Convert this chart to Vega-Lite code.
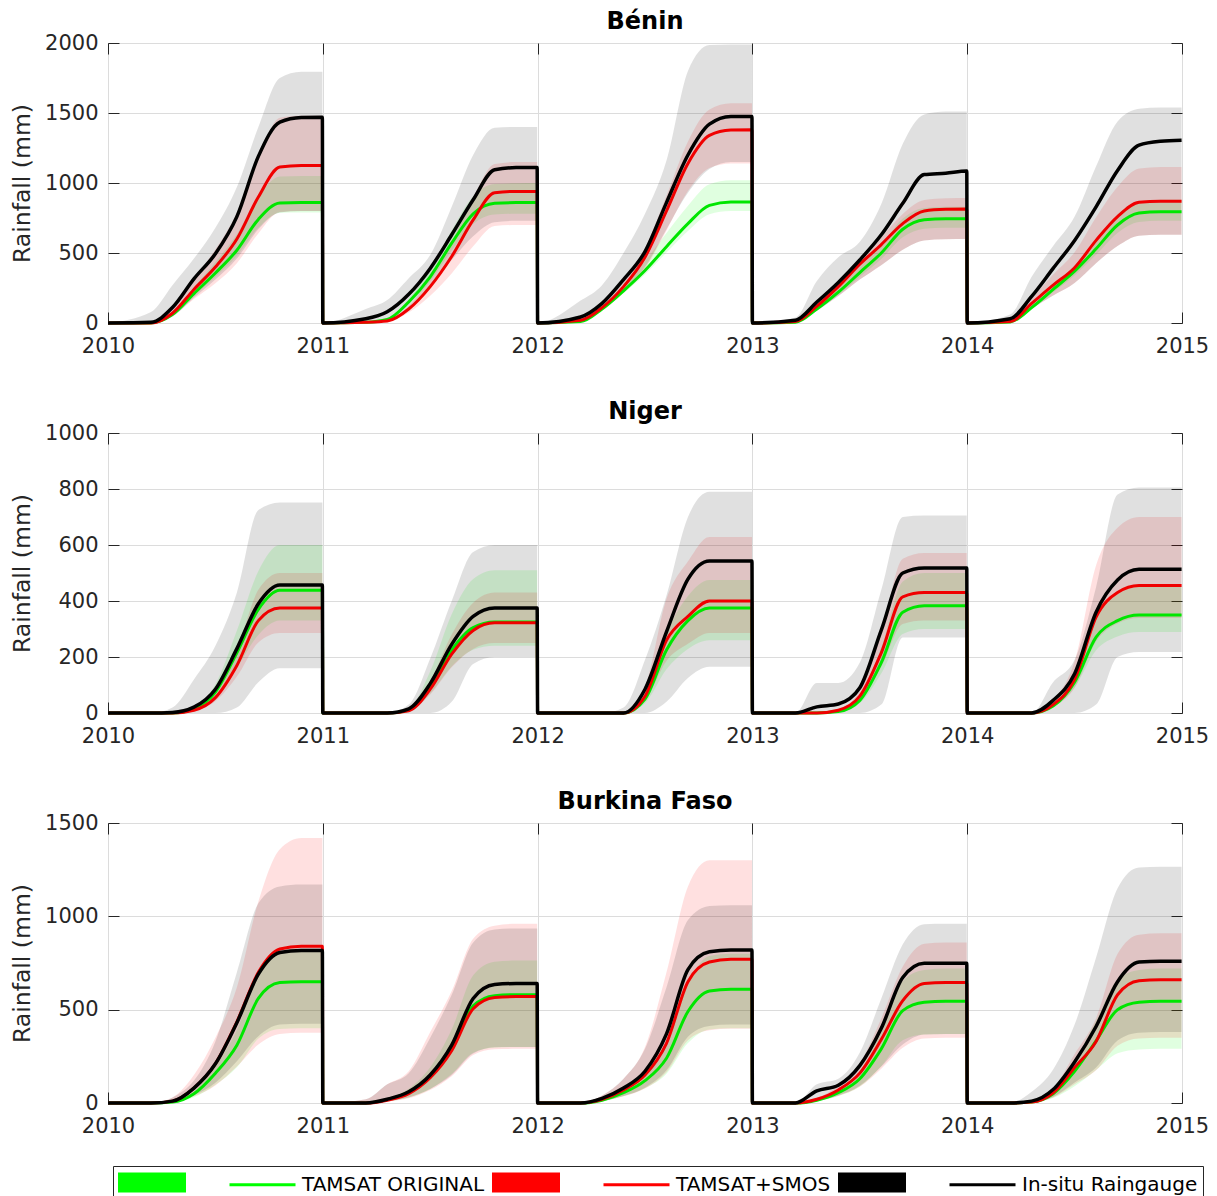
{
"$schema": "https://vega.github.io/schema/vega-lite/v6.json",
"padding": {"left": 10, "top": 9, "right": 30, "bottom": 0},
"config": {
 "font": "DejaVu Sans",
 "view": {"stroke": "#3a3a3a", "strokeWidth": 1},
 "axis": {"labelFont": "DejaVu Sans", "labelFontSize": 21, "labelColor": "#262626", "titleFont": "DejaVu Sans", "titleFontSize": 23.5, "titleFontWeight": "normal", "titleColor": "#262626", "tickColor": "#262626", "tickSize": -11, "labelPadding": 21, "domain": false, "gridColor": "#dcdcdc", "gridWidth": 1, "labelFlush": false, "labelOverlap": false},
 "axisX": {"labelPadding": 23},
 "title": {"font": "DejaVu Sans", "fontSize": 24, "fontWeight": "bold", "color": "#000000", "offset": -2, "anchor": "middle"}
},
"datasets": {
 "leg": [{"k": "gb"}, {"k": "gl"}, {"k": "rb"}, {"k": "rl"}, {"k": "kb"}, {"k": "kl"}],
 "d": [
{"c":"BEN","s":"g","x":2010,"y":0,"lo":0,"hi":0},{"c":"BEN","s":"g","x":2010.2,"y":0,"lo":0,"hi":0},{"c":"BEN","s":"g","x":2010.3,"y":60,"lo":55,"hi":73},{"c":"BEN","s":"g","x":2010.4,"y":210,"lo":193,"hi":256},{"c":"BEN","s":"g","x":2010.5,"y":357,"lo":328,"hi":436},{"c":"BEN","s":"g","x":2010.6,"y":520,"lo":478,"hi":634},{"c":"BEN","s":"g","x":2010.7,"y":740,"lo":680,"hi":903},{"c":"BEN","s":"g","x":2010.8,"y":857,"lo":788,"hi":1046},{"c":"BEN","s":"g","x":2010.9,"y":860,"lo":790,"hi":1050},{"c":"BEN","s":"g","x":2010.998,"y":860,"lo":790,"hi":1050},
{"c":"BEN","s":"r","x":2010,"y":0,"lo":0,"hi":0},{"c":"BEN","s":"r","x":2010.2,"y":0,"lo":0,"hi":0},{"c":"BEN","s":"r","x":2010.3,"y":70,"lo":50,"hi":92},{"c":"BEN","s":"r","x":2010.4,"y":240,"lo":171,"hi":316},{"c":"BEN","s":"r","x":2010.5,"y":400,"lo":284,"hi":526},{"c":"BEN","s":"r","x":2010.6,"y":600,"lo":427,"hi":790},{"c":"BEN","s":"r","x":2010.7,"y":900,"lo":640,"hi":1184},{"c":"BEN","s":"r","x":2010.8,"y":1114,"lo":792,"hi":1466},{"c":"BEN","s":"r","x":2010.9,"y":1125,"lo":800,"hi":1480},{"c":"BEN","s":"r","x":2010.998,"y":1125,"lo":800,"hi":1480},
{"c":"BEN","s":"k","x":2010,"y":0,"lo":0,"hi":0},{"c":"BEN","s":"k","x":2010.2,"y":5,"lo":0,"hi":79},{"c":"BEN","s":"k","x":2010.3,"y":110,"lo":45,"hi":270},{"c":"BEN","s":"k","x":2010.4,"y":315,"lo":180,"hi":460},{"c":"BEN","s":"k","x":2010.5,"y":495,"lo":310,"hi":680},{"c":"BEN","s":"k","x":2010.6,"y":760,"lo":460,"hi":971},{"c":"BEN","s":"k","x":2010.7,"y":1190,"lo":670,"hi":1400},{"c":"BEN","s":"k","x":2010.8,"y":1435,"lo":790,"hi":1750},{"c":"BEN","s":"k","x":2010.9,"y":1468,"lo":800,"hi":1795},{"c":"BEN","s":"k","x":2010.998,"y":1470,"lo":800,"hi":1795},
{"c":"BEN","s":"g","x":2011,"y":0,"lo":0,"hi":0},{"c":"BEN","s":"g","x":2011.2,"y":5,"lo":4,"hi":6},{"c":"BEN","s":"g","x":2011.3,"y":25,"lo":23,"hi":29},{"c":"BEN","s":"g","x":2011.4,"y":150,"lo":136,"hi":174},{"c":"BEN","s":"g","x":2011.5,"y":330,"lo":299,"hi":383},{"c":"BEN","s":"g","x":2011.6,"y":570,"lo":517,"hi":661},{"c":"BEN","s":"g","x":2011.7,"y":780,"lo":707,"hi":905},{"c":"BEN","s":"g","x":2011.8,"y":855,"lo":775,"hi":992},{"c":"BEN","s":"g","x":2011.9,"y":860,"lo":780,"hi":998},{"c":"BEN","s":"g","x":2011.998,"y":860,"lo":780,"hi":1000},
{"c":"BEN","s":"r","x":2011,"y":0,"lo":0,"hi":0},{"c":"BEN","s":"r","x":2011.2,"y":5,"lo":4,"hi":6},{"c":"BEN","s":"r","x":2011.3,"y":14,"lo":10,"hi":17},{"c":"BEN","s":"r","x":2011.4,"y":100,"lo":75,"hi":122},{"c":"BEN","s":"r","x":2011.5,"y":260,"lo":194,"hi":317},{"c":"BEN","s":"r","x":2011.6,"y":475,"lo":354,"hi":580},{"c":"BEN","s":"r","x":2011.7,"y":736,"lo":548,"hi":898},{"c":"BEN","s":"r","x":2011.8,"y":930,"lo":693,"hi":1135},{"c":"BEN","s":"r","x":2011.9,"y":940,"lo":700,"hi":1150},{"c":"BEN","s":"r","x":2011.998,"y":940,"lo":700,"hi":1150},
{"c":"BEN","s":"k","x":2011,"y":0,"lo":0,"hi":0},{"c":"BEN","s":"k","x":2011.2,"y":30,"lo":0,"hi":100},{"c":"BEN","s":"k","x":2011.3,"y":80,"lo":10,"hi":164},{"c":"BEN","s":"k","x":2011.4,"y":205,"lo":100,"hi":320},{"c":"BEN","s":"k","x":2011.5,"y":390,"lo":260,"hi":485},{"c":"BEN","s":"k","x":2011.6,"y":630,"lo":450,"hi":830},{"c":"BEN","s":"k","x":2011.7,"y":880,"lo":620,"hi":1200},{"c":"BEN","s":"k","x":2011.8,"y":1095,"lo":720,"hi":1395},{"c":"BEN","s":"k","x":2011.9,"y":1110,"lo":730,"hi":1400},{"c":"BEN","s":"k","x":2011.998,"y":1110,"lo":730,"hi":1400},
{"c":"BEN","s":"g","x":2012,"y":0,"lo":0,"hi":0},{"c":"BEN","s":"g","x":2012.2,"y":10,"lo":9,"hi":12},{"c":"BEN","s":"g","x":2012.3,"y":100,"lo":93,"hi":118},{"c":"BEN","s":"g","x":2012.4,"y":230,"lo":213,"hi":271},{"c":"BEN","s":"g","x":2012.5,"y":375,"lo":347,"hi":443},{"c":"BEN","s":"g","x":2012.6,"y":545,"lo":504,"hi":643},{"c":"BEN","s":"g","x":2012.7,"y":710,"lo":657,"hi":838},{"c":"BEN","s":"g","x":2012.8,"y":840,"lo":777,"hi":991},{"c":"BEN","s":"g","x":2012.9,"y":865,"lo":800,"hi":1020},{"c":"BEN","s":"g","x":2012.998,"y":865,"lo":800,"hi":1020},
{"c":"BEN","s":"r","x":2012,"y":0,"lo":0,"hi":0},{"c":"BEN","s":"r","x":2012.2,"y":20,"lo":17,"hi":23},{"c":"BEN","s":"r","x":2012.3,"y":110,"lo":91,"hi":125},{"c":"BEN","s":"r","x":2012.4,"y":260,"lo":215,"hi":296},{"c":"BEN","s":"r","x":2012.5,"y":470,"lo":388,"hi":535},{"c":"BEN","s":"r","x":2012.6,"y":800,"lo":661,"hi":910},{"c":"BEN","s":"r","x":2012.7,"y":1140,"lo":942,"hi":1297},{"c":"BEN","s":"r","x":2012.8,"y":1340,"lo":1107,"hi":1525},{"c":"BEN","s":"r","x":2012.9,"y":1378,"lo":1139,"hi":1569},{"c":"BEN","s":"r","x":2012.998,"y":1380,"lo":1140,"hi":1570},
{"c":"BEN","s":"k","x":2012,"y":0,"lo":0,"hi":0},{"c":"BEN","s":"k","x":2012.2,"y":43,"lo":30,"hi":160},{"c":"BEN","s":"k","x":2012.3,"y":140,"lo":110,"hi":270},{"c":"BEN","s":"k","x":2012.4,"y":310,"lo":240,"hi":500},{"c":"BEN","s":"k","x":2012.5,"y":510,"lo":400,"hi":780},{"c":"BEN","s":"k","x":2012.6,"y":860,"lo":670,"hi":1160},{"c":"BEN","s":"k","x":2012.7,"y":1200,"lo":930,"hi":1800},{"c":"BEN","s":"k","x":2012.8,"y":1420,"lo":1100,"hi":1985},{"c":"BEN","s":"k","x":2012.9,"y":1475,"lo":1150,"hi":1990},{"c":"BEN","s":"k","x":2012.998,"y":1475,"lo":1150,"hi":1990},
{"c":"BEN","s":"g","x":2013,"y":0,"lo":0,"hi":0},{"c":"BEN","s":"g","x":2013.2,"y":5,"lo":5,"hi":6},{"c":"BEN","s":"g","x":2013.3,"y":100,"lo":91,"hi":111},{"c":"BEN","s":"g","x":2013.4,"y":220,"lo":201,"hi":245},{"c":"BEN","s":"g","x":2013.5,"y":360,"lo":329,"hi":401},{"c":"BEN","s":"g","x":2013.6,"y":500,"lo":457,"hi":557},{"c":"BEN","s":"g","x":2013.7,"y":670,"lo":612,"hi":746},{"c":"BEN","s":"g","x":2013.8,"y":738,"lo":674,"hi":822},{"c":"BEN","s":"g","x":2013.9,"y":745,"lo":680,"hi":830},{"c":"BEN","s":"g","x":2013.998,"y":745,"lo":680,"hi":830},
{"c":"BEN","s":"r","x":2013,"y":0,"lo":0,"hi":0},{"c":"BEN","s":"r","x":2013.2,"y":10,"lo":7,"hi":11},{"c":"BEN","s":"r","x":2013.3,"y":120,"lo":88,"hi":132},{"c":"BEN","s":"r","x":2013.4,"y":260,"lo":192,"hi":285},{"c":"BEN","s":"r","x":2013.5,"y":420,"lo":310,"hi":461},{"c":"BEN","s":"r","x":2013.6,"y":560,"lo":413,"hi":614},{"c":"BEN","s":"r","x":2013.7,"y":710,"lo":523,"hi":779},{"c":"BEN","s":"r","x":2013.8,"y":800,"lo":590,"hi":878},{"c":"BEN","s":"r","x":2013.9,"y":812,"lo":598,"hi":891},{"c":"BEN","s":"r","x":2013.998,"y":814,"lo":600,"hi":893},
{"c":"BEN","s":"k","x":2013,"y":0,"lo":0,"hi":0},{"c":"BEN","s":"k","x":2013.2,"y":20,"lo":7,"hi":40},{"c":"BEN","s":"k","x":2013.3,"y":150,"lo":88,"hi":300},{"c":"BEN","s":"k","x":2013.4,"y":290,"lo":192,"hi":470},{"c":"BEN","s":"k","x":2013.5,"y":450,"lo":310,"hi":580},{"c":"BEN","s":"k","x":2013.6,"y":630,"lo":413,"hi":850},{"c":"BEN","s":"k","x":2013.7,"y":855,"lo":523,"hi":1280},{"c":"BEN","s":"k","x":2013.8,"y":1060,"lo":590,"hi":1490},{"c":"BEN","s":"k","x":2013.9,"y":1070,"lo":598,"hi":1510},{"c":"BEN","s":"k","x":2013.998,"y":1085,"lo":600,"hi":1510},
{"c":"BEN","s":"g","x":2014,"y":0,"lo":0,"hi":0},{"c":"BEN","s":"g","x":2014.2,"y":8,"lo":7,"hi":9},{"c":"BEN","s":"g","x":2014.3,"y":110,"lo":101,"hi":122},{"c":"BEN","s":"g","x":2014.4,"y":240,"lo":220,"hi":266},{"c":"BEN","s":"g","x":2014.5,"y":370,"lo":340,"hi":410},{"c":"BEN","s":"g","x":2014.6,"y":530,"lo":487,"hi":587},{"c":"BEN","s":"g","x":2014.7,"y":700,"lo":643,"hi":775},{"c":"BEN","s":"g","x":2014.8,"y":785,"lo":721,"hi":869},{"c":"BEN","s":"g","x":2014.9,"y":795,"lo":730,"hi":880},{"c":"BEN","s":"g","x":2014.998,"y":795,"lo":730,"hi":880},
{"c":"BEN","s":"r","x":2014,"y":0,"lo":0,"hi":0},{"c":"BEN","s":"r","x":2014.2,"y":10,"lo":7,"hi":13},{"c":"BEN","s":"r","x":2014.3,"y":140,"lo":101,"hi":179},{"c":"BEN","s":"r","x":2014.4,"y":270,"lo":196,"hi":346},{"c":"BEN","s":"r","x":2014.5,"y":395,"lo":286,"hi":506},{"c":"BEN","s":"r","x":2014.6,"y":590,"lo":427,"hi":755},{"c":"BEN","s":"r","x":2014.7,"y":760,"lo":550,"hi":973},{"c":"BEN","s":"r","x":2014.8,"y":862,"lo":624,"hi":1103},{"c":"BEN","s":"r","x":2014.9,"y":870,"lo":630,"hi":1114},{"c":"BEN","s":"r","x":2014.998,"y":870,"lo":630,"hi":1114},
{"c":"BEN","s":"k","x":2014,"y":0,"lo":0,"hi":0},{"c":"BEN","s":"k","x":2014.2,"y":30,"lo":7,"hi":60},{"c":"BEN","s":"k","x":2014.3,"y":190,"lo":101,"hi":330},{"c":"BEN","s":"k","x":2014.4,"y":390,"lo":196,"hi":550},{"c":"BEN","s":"k","x":2014.5,"y":590,"lo":286,"hi":760},{"c":"BEN","s":"k","x":2014.6,"y":830,"lo":427,"hi":1120},{"c":"BEN","s":"k","x":2014.7,"y":1090,"lo":550,"hi":1440},{"c":"BEN","s":"k","x":2014.8,"y":1270,"lo":624,"hi":1530},{"c":"BEN","s":"k","x":2014.9,"y":1298,"lo":630,"hi":1540},{"c":"BEN","s":"k","x":2014.998,"y":1305,"lo":630,"hi":1540},

{"c":"NER","s":"g","x":2010,"y":0,"lo":0,"hi":0},{"c":"NER","s":"g","x":2010.2,"y":0,"lo":0,"hi":0},{"c":"NER","s":"g","x":2010.3,"y":0,"lo":0,"hi":0},{"c":"NER","s":"g","x":2010.4,"y":15,"lo":11,"hi":21},{"c":"NER","s":"g","x":2010.5,"y":75,"lo":56,"hi":103},{"c":"NER","s":"g","x":2010.6,"y":215,"lo":162,"hi":295},{"c":"NER","s":"g","x":2010.7,"y":370,"lo":279,"hi":507},{"c":"NER","s":"g","x":2010.8,"y":438,"lo":330,"hi":600},{"c":"NER","s":"g","x":2010.9,"y":438,"lo":330,"hi":600},{"c":"NER","s":"g","x":2010.998,"y":438,"lo":330,"hi":600},
{"c":"NER","s":"r","x":2010,"y":0,"lo":0,"hi":0},{"c":"NER","s":"r","x":2010.2,"y":0,"lo":0,"hi":0},{"c":"NER","s":"r","x":2010.3,"y":0,"lo":0,"hi":0},{"c":"NER","s":"r","x":2010.4,"y":10,"lo":8,"hi":13},{"c":"NER","s":"r","x":2010.5,"y":55,"lo":42,"hi":73},{"c":"NER","s":"r","x":2010.6,"y":170,"lo":130,"hi":227},{"c":"NER","s":"r","x":2010.7,"y":330,"lo":252,"hi":440},{"c":"NER","s":"r","x":2010.8,"y":375,"lo":286,"hi":500},{"c":"NER","s":"r","x":2010.9,"y":375,"lo":286,"hi":500},{"c":"NER","s":"r","x":2010.998,"y":375,"lo":286,"hi":500},
{"c":"NER","s":"k","x":2010,"y":0,"lo":0,"hi":0},{"c":"NER","s":"k","x":2010.2,"y":0,"lo":0,"hi":0},{"c":"NER","s":"k","x":2010.3,"y":2,"lo":0,"hi":20},{"c":"NER","s":"k","x":2010.4,"y":21,"lo":0,"hi":120},{"c":"NER","s":"k","x":2010.5,"y":85,"lo":0,"hi":240},{"c":"NER","s":"k","x":2010.6,"y":230,"lo":20,"hi":430},{"c":"NER","s":"k","x":2010.7,"y":390,"lo":110,"hi":725},{"c":"NER","s":"k","x":2010.8,"y":457,"lo":160,"hi":752},{"c":"NER","s":"k","x":2010.9,"y":457,"lo":160,"hi":752},{"c":"NER","s":"k","x":2010.998,"y":457,"lo":160,"hi":752},
{"c":"NER","s":"g","x":2011,"y":0,"lo":0,"hi":0},{"c":"NER","s":"g","x":2011.2,"y":0,"lo":0,"hi":0},{"c":"NER","s":"g","x":2011.3,"y":0,"lo":0,"hi":0},{"c":"NER","s":"g","x":2011.4,"y":10,"lo":7,"hi":16},{"c":"NER","s":"g","x":2011.5,"y":95,"lo":70,"hi":149},{"c":"NER","s":"g","x":2011.6,"y":225,"lo":166,"hi":353},{"c":"NER","s":"g","x":2011.7,"y":305,"lo":226,"hi":479},{"c":"NER","s":"g","x":2011.8,"y":325,"lo":240,"hi":510},{"c":"NER","s":"g","x":2011.9,"y":325,"lo":240,"hi":510},{"c":"NER","s":"g","x":2011.998,"y":325,"lo":240,"hi":510},
{"c":"NER","s":"r","x":2011,"y":0,"lo":0,"hi":0},{"c":"NER","s":"r","x":2011.2,"y":0,"lo":0,"hi":0},{"c":"NER","s":"r","x":2011.3,"y":0,"lo":0,"hi":0},{"c":"NER","s":"r","x":2011.4,"y":8,"lo":6,"hi":11},{"c":"NER","s":"r","x":2011.5,"y":85,"lo":66,"hi":113},{"c":"NER","s":"r","x":2011.6,"y":210,"lo":163,"hi":280},{"c":"NER","s":"r","x":2011.7,"y":295,"lo":229,"hi":394},{"c":"NER","s":"r","x":2011.8,"y":322,"lo":250,"hi":430},{"c":"NER","s":"r","x":2011.9,"y":322,"lo":250,"hi":430},{"c":"NER","s":"r","x":2011.998,"y":322,"lo":250,"hi":430},
{"c":"NER","s":"k","x":2011,"y":0,"lo":0,"hi":0},{"c":"NER","s":"k","x":2011.2,"y":0,"lo":0,"hi":0},{"c":"NER","s":"k","x":2011.3,"y":0,"lo":0,"hi":0},{"c":"NER","s":"k","x":2011.4,"y":15,"lo":0,"hi":30},{"c":"NER","s":"k","x":2011.5,"y":105,"lo":0,"hi":195},{"c":"NER","s":"k","x":2011.6,"y":245,"lo":40,"hi":400},{"c":"NER","s":"k","x":2011.7,"y":345,"lo":175,"hi":575},{"c":"NER","s":"k","x":2011.8,"y":375,"lo":200,"hi":600},{"c":"NER","s":"k","x":2011.9,"y":375,"lo":200,"hi":600},{"c":"NER","s":"k","x":2011.998,"y":375,"lo":200,"hi":600},
{"c":"NER","s":"g","x":2012,"y":0,"lo":0,"hi":0},{"c":"NER","s":"g","x":2012.2,"y":0,"lo":0,"hi":0},{"c":"NER","s":"g","x":2012.3,"y":0,"lo":0,"hi":0},{"c":"NER","s":"g","x":2012.4,"y":0,"lo":0,"hi":0},{"c":"NER","s":"g","x":2012.5,"y":50,"lo":35,"hi":63},{"c":"NER","s":"g","x":2012.6,"y":225,"lo":156,"hi":285},{"c":"NER","s":"g","x":2012.7,"y":330,"lo":229,"hi":418},{"c":"NER","s":"g","x":2012.8,"y":375,"lo":260,"hi":475},{"c":"NER","s":"g","x":2012.9,"y":375,"lo":260,"hi":475},{"c":"NER","s":"g","x":2012.998,"y":375,"lo":260,"hi":475},
{"c":"NER","s":"r","x":2012,"y":0,"lo":0,"hi":0},{"c":"NER","s":"r","x":2012.2,"y":0,"lo":0,"hi":0},{"c":"NER","s":"r","x":2012.3,"y":0,"lo":0,"hi":0},{"c":"NER","s":"r","x":2012.4,"y":0,"lo":0,"hi":0},{"c":"NER","s":"r","x":2012.5,"y":60,"lo":43,"hi":94},{"c":"NER","s":"r","x":2012.6,"y":260,"lo":186,"hi":408},{"c":"NER","s":"r","x":2012.7,"y":345,"lo":247,"hi":542},{"c":"NER","s":"r","x":2012.8,"y":400,"lo":286,"hi":629},{"c":"NER","s":"r","x":2012.9,"y":400,"lo":286,"hi":629},{"c":"NER","s":"r","x":2012.998,"y":400,"lo":286,"hi":629},
{"c":"NER","s":"k","x":2012,"y":0,"lo":0,"hi":0},{"c":"NER","s":"k","x":2012.2,"y":0,"lo":0,"hi":0},{"c":"NER","s":"k","x":2012.3,"y":0,"lo":0,"hi":0},{"c":"NER","s":"k","x":2012.4,"y":0,"lo":0,"hi":20},{"c":"NER","s":"k","x":2012.5,"y":85,"lo":0,"hi":190},{"c":"NER","s":"k","x":2012.6,"y":290,"lo":40,"hi":420},{"c":"NER","s":"k","x":2012.7,"y":478,"lo":125,"hi":700},{"c":"NER","s":"k","x":2012.8,"y":543,"lo":165,"hi":790},{"c":"NER","s":"k","x":2012.9,"y":543,"lo":165,"hi":790},{"c":"NER","s":"k","x":2012.998,"y":543,"lo":165,"hi":790},
{"c":"NER","s":"g","x":2013,"y":0,"lo":0,"hi":0},{"c":"NER","s":"g","x":2013.2,"y":0,"lo":0,"hi":0},{"c":"NER","s":"g","x":2013.3,"y":0,"lo":0,"hi":0},{"c":"NER","s":"g","x":2013.4,"y":5,"lo":4,"hi":7},{"c":"NER","s":"g","x":2013.5,"y":45,"lo":35,"hi":59},{"c":"NER","s":"g","x":2013.6,"y":180,"lo":141,"hi":235},{"c":"NER","s":"g","x":2013.7,"y":360,"lo":282,"hi":470},{"c":"NER","s":"g","x":2013.8,"y":383,"lo":300,"hi":500},{"c":"NER","s":"g","x":2013.9,"y":383,"lo":300,"hi":500},{"c":"NER","s":"g","x":2013.998,"y":383,"lo":300,"hi":500},
{"c":"NER","s":"r","x":2013,"y":0,"lo":0,"hi":0},{"c":"NER","s":"r","x":2013.2,"y":0,"lo":0,"hi":0},{"c":"NER","s":"r","x":2013.3,"y":0,"lo":0,"hi":0},{"c":"NER","s":"r","x":2013.4,"y":10,"lo":8,"hi":13},{"c":"NER","s":"r","x":2013.5,"y":60,"lo":46,"hi":80},{"c":"NER","s":"r","x":2013.6,"y":215,"lo":165,"hi":286},{"c":"NER","s":"r","x":2013.7,"y":415,"lo":318,"hi":551},{"c":"NER","s":"r","x":2013.8,"y":430,"lo":330,"hi":571},{"c":"NER","s":"r","x":2013.9,"y":430,"lo":330,"hi":571},{"c":"NER","s":"r","x":2013.998,"y":430,"lo":330,"hi":571},
{"c":"NER","s":"k","x":2013,"y":0,"lo":0,"hi":0},{"c":"NER","s":"k","x":2013.2,"y":0,"lo":0,"hi":0},{"c":"NER","s":"k","x":2013.3,"y":22,"lo":0,"hi":107},{"c":"NER","s":"k","x":2013.4,"y":32,"lo":0,"hi":107},{"c":"NER","s":"k","x":2013.5,"y":90,"lo":0,"hi":180},{"c":"NER","s":"k","x":2013.6,"y":296,"lo":30,"hi":440},{"c":"NER","s":"k","x":2013.7,"y":500,"lo":270,"hi":700},{"c":"NER","s":"k","x":2013.8,"y":518,"lo":270,"hi":705},{"c":"NER","s":"k","x":2013.9,"y":518,"lo":270,"hi":705},{"c":"NER","s":"k","x":2013.998,"y":518,"lo":270,"hi":705},
{"c":"NER","s":"g","x":2014,"y":0,"lo":0,"hi":0},{"c":"NER","s":"g","x":2014.2,"y":0,"lo":0,"hi":0},{"c":"NER","s":"g","x":2014.3,"y":0,"lo":0,"hi":0},{"c":"NER","s":"g","x":2014.4,"y":25,"lo":21,"hi":32},{"c":"NER","s":"g","x":2014.5,"y":110,"lo":91,"hi":141},{"c":"NER","s":"g","x":2014.6,"y":271,"lo":224,"hi":349},{"c":"NER","s":"g","x":2014.7,"y":330,"lo":273,"hi":424},{"c":"NER","s":"g","x":2014.8,"y":350,"lo":289,"hi":450},{"c":"NER","s":"g","x":2014.9,"y":350,"lo":289,"hi":450},{"c":"NER","s":"g","x":2014.998,"y":350,"lo":289,"hi":450},
{"c":"NER","s":"r","x":2014,"y":0,"lo":0,"hi":0},{"c":"NER","s":"r","x":2014.2,"y":0,"lo":0,"hi":0},{"c":"NER","s":"r","x":2014.3,"y":0,"lo":0,"hi":0},{"c":"NER","s":"r","x":2014.4,"y":30,"lo":22,"hi":46},{"c":"NER","s":"r","x":2014.5,"y":120,"lo":89,"hi":185},{"c":"NER","s":"r","x":2014.6,"y":343,"lo":256,"hi":528},{"c":"NER","s":"r","x":2014.7,"y":430,"lo":320,"hi":662},{"c":"NER","s":"r","x":2014.8,"y":455,"lo":339,"hi":700},{"c":"NER","s":"r","x":2014.9,"y":455,"lo":339,"hi":700},{"c":"NER","s":"r","x":2014.998,"y":455,"lo":339,"hi":700},
{"c":"NER","s":"k","x":2014,"y":0,"lo":0,"hi":0},{"c":"NER","s":"k","x":2014.2,"y":0,"lo":0,"hi":0},{"c":"NER","s":"k","x":2014.3,"y":0,"lo":0,"hi":0},{"c":"NER","s":"k","x":2014.4,"y":45,"lo":0,"hi":110},{"c":"NER","s":"k","x":2014.5,"y":140,"lo":0,"hi":190},{"c":"NER","s":"k","x":2014.6,"y":360,"lo":30,"hi":450},{"c":"NER","s":"k","x":2014.7,"y":475,"lo":200,"hi":780},{"c":"NER","s":"k","x":2014.8,"y":513,"lo":218,"hi":805},{"c":"NER","s":"k","x":2014.9,"y":513,"lo":218,"hi":805},{"c":"NER","s":"k","x":2014.998,"y":513,"lo":218,"hi":805},

{"c":"BFA","s":"g","x":2010,"y":0,"lo":0,"hi":0},{"c":"BFA","s":"g","x":2010.2,"y":0,"lo":0,"hi":0},{"c":"BFA","s":"g","x":2010.3,"y":5,"lo":3,"hi":6},{"c":"BFA","s":"g","x":2010.4,"y":50,"lo":31,"hi":63},{"c":"BFA","s":"g","x":2010.5,"y":160,"lo":98,"hi":202},{"c":"BFA","s":"g","x":2010.6,"y":310,"lo":191,"hi":391},{"c":"BFA","s":"g","x":2010.7,"y":560,"lo":345,"hi":706},{"c":"BFA","s":"g","x":2010.8,"y":645,"lo":397,"hi":813},{"c":"BFA","s":"g","x":2010.9,"y":650,"lo":400,"hi":820},{"c":"BFA","s":"g","x":2010.998,"y":650,"lo":400,"hi":820},
{"c":"BFA","s":"r","x":2010,"y":0,"lo":0,"hi":0},{"c":"BFA","s":"r","x":2010.2,"y":0,"lo":0,"hi":0},{"c":"BFA","s":"r","x":2010.3,"y":10,"lo":4,"hi":30},{"c":"BFA","s":"r","x":2010.4,"y":80,"lo":36,"hi":150},{"c":"BFA","s":"r","x":2010.5,"y":210,"lo":94,"hi":350},{"c":"BFA","s":"r","x":2010.6,"y":435,"lo":195,"hi":620},{"c":"BFA","s":"r","x":2010.7,"y":700,"lo":313,"hi":1080},{"c":"BFA","s":"r","x":2010.8,"y":825,"lo":369,"hi":1360},{"c":"BFA","s":"r","x":2010.9,"y":840,"lo":376,"hi":1420},{"c":"BFA","s":"r","x":2010.998,"y":840,"lo":376,"hi":1420},
{"c":"BFA","s":"k","x":2010,"y":0,"lo":0,"hi":0},{"c":"BFA","s":"k","x":2010.2,"y":0,"lo":0,"hi":0},{"c":"BFA","s":"k","x":2010.3,"y":10,"lo":5,"hi":30},{"c":"BFA","s":"k","x":2010.4,"y":80,"lo":42,"hi":120},{"c":"BFA","s":"k","x":2010.5,"y":210,"lo":109,"hi":330},{"c":"BFA","s":"k","x":2010.6,"y":430,"lo":224,"hi":700},{"c":"BFA","s":"k","x":2010.7,"y":690,"lo":358,"hi":1070},{"c":"BFA","s":"k","x":2010.8,"y":806,"lo":420,"hi":1160},{"c":"BFA","s":"k","x":2010.9,"y":817,"lo":425,"hi":1170},{"c":"BFA","s":"k","x":2010.998,"y":817,"lo":425,"hi":1170},
{"c":"BFA","s":"g","x":2011,"y":0,"lo":0,"hi":0},{"c":"BFA","s":"g","x":2011.2,"y":0,"lo":0,"hi":0},{"c":"BFA","s":"g","x":2011.3,"y":18,"lo":9,"hi":24},{"c":"BFA","s":"g","x":2011.4,"y":58,"lo":30,"hi":76},{"c":"BFA","s":"g","x":2011.5,"y":145,"lo":75,"hi":191},{"c":"BFA","s":"g","x":2011.6,"y":300,"lo":155,"hi":395},{"c":"BFA","s":"g","x":2011.7,"y":520,"lo":269,"hi":684},{"c":"BFA","s":"g","x":2011.8,"y":575,"lo":297,"hi":757},{"c":"BFA","s":"g","x":2011.9,"y":580,"lo":300,"hi":763},{"c":"BFA","s":"g","x":2011.998,"y":580,"lo":300,"hi":763},
{"c":"BFA","s":"r","x":2011,"y":0,"lo":0,"hi":0},{"c":"BFA","s":"r","x":2011.2,"y":0,"lo":0,"hi":20},{"c":"BFA","s":"r","x":2011.3,"y":15,"lo":8,"hi":100},{"c":"BFA","s":"r","x":2011.4,"y":50,"lo":25,"hi":170},{"c":"BFA","s":"r","x":2011.5,"y":135,"lo":69,"hi":380},{"c":"BFA","s":"r","x":2011.6,"y":280,"lo":143,"hi":600},{"c":"BFA","s":"r","x":2011.7,"y":505,"lo":257,"hi":880},{"c":"BFA","s":"r","x":2011.8,"y":565,"lo":288,"hi":950},{"c":"BFA","s":"r","x":2011.9,"y":570,"lo":290,"hi":960},{"c":"BFA","s":"r","x":2011.998,"y":570,"lo":290,"hi":960},
{"c":"BFA","s":"k","x":2011,"y":0,"lo":0,"hi":0},{"c":"BFA","s":"k","x":2011.2,"y":0,"lo":0,"hi":20},{"c":"BFA","s":"k","x":2011.3,"y":20,"lo":10,"hi":100},{"c":"BFA","s":"k","x":2011.4,"y":60,"lo":30,"hi":160},{"c":"BFA","s":"k","x":2011.5,"y":150,"lo":75,"hi":350},{"c":"BFA","s":"k","x":2011.6,"y":310,"lo":150,"hi":580},{"c":"BFA","s":"k","x":2011.7,"y":560,"lo":265,"hi":860},{"c":"BFA","s":"k","x":2011.8,"y":635,"lo":298,"hi":930},{"c":"BFA","s":"k","x":2011.9,"y":640,"lo":300,"hi":935},{"c":"BFA","s":"k","x":2011.998,"y":640,"lo":300,"hi":935},
{"c":"BFA","s":"g","x":2012,"y":0,"lo":0,"hi":0},{"c":"BFA","s":"g","x":2012.2,"y":0,"lo":0,"hi":0},{"c":"BFA","s":"g","x":2012.3,"y":15,"lo":10,"hi":20},{"c":"BFA","s":"g","x":2012.4,"y":55,"lo":36,"hi":72},{"c":"BFA","s":"g","x":2012.5,"y":120,"lo":79,"hi":157},{"c":"BFA","s":"g","x":2012.6,"y":240,"lo":157,"hi":315},{"c":"BFA","s":"g","x":2012.7,"y":490,"lo":321,"hi":642},{"c":"BFA","s":"g","x":2012.8,"y":600,"lo":394,"hi":787},{"c":"BFA","s":"g","x":2012.9,"y":610,"lo":400,"hi":800},{"c":"BFA","s":"g","x":2012.998,"y":610,"lo":400,"hi":800},
{"c":"BFA","s":"r","x":2012,"y":0,"lo":0,"hi":0},{"c":"BFA","s":"r","x":2012.2,"y":0,"lo":0,"hi":0},{"c":"BFA","s":"r","x":2012.3,"y":20,"lo":10,"hi":40},{"c":"BFA","s":"r","x":2012.4,"y":70,"lo":36,"hi":130},{"c":"BFA","s":"r","x":2012.5,"y":150,"lo":78,"hi":300},{"c":"BFA","s":"r","x":2012.6,"y":320,"lo":165,"hi":700},{"c":"BFA","s":"r","x":2012.7,"y":650,"lo":336,"hi":1160},{"c":"BFA","s":"r","x":2012.8,"y":755,"lo":390,"hi":1300},{"c":"BFA","s":"r","x":2012.9,"y":770,"lo":398,"hi":1300},{"c":"BFA","s":"r","x":2012.998,"y":770,"lo":398,"hi":1300},
{"c":"BFA","s":"k","x":2012,"y":0,"lo":0,"hi":0},{"c":"BFA","s":"k","x":2012.2,"y":0,"lo":0,"hi":0},{"c":"BFA","s":"k","x":2012.3,"y":25,"lo":11,"hi":40},{"c":"BFA","s":"k","x":2012.4,"y":80,"lo":38,"hi":130},{"c":"BFA","s":"k","x":2012.5,"y":170,"lo":82,"hi":290},{"c":"BFA","s":"k","x":2012.6,"y":370,"lo":175,"hi":620},{"c":"BFA","s":"k","x":2012.7,"y":715,"lo":355,"hi":980},{"c":"BFA","s":"k","x":2012.8,"y":810,"lo":412,"hi":1055},{"c":"BFA","s":"k","x":2012.9,"y":820,"lo":420,"hi":1060},{"c":"BFA","s":"k","x":2012.998,"y":820,"lo":420,"hi":1060},
{"c":"BFA","s":"g","x":2013,"y":0,"lo":0,"hi":0},{"c":"BFA","s":"g","x":2013.2,"y":0,"lo":0,"hi":0},{"c":"BFA","s":"g","x":2013.3,"y":15,"lo":10,"hi":20},{"c":"BFA","s":"g","x":2013.4,"y":55,"lo":37,"hi":73},{"c":"BFA","s":"g","x":2013.5,"y":130,"lo":88,"hi":172},{"c":"BFA","s":"g","x":2013.6,"y":290,"lo":197,"hi":383},{"c":"BFA","s":"g","x":2013.7,"y":495,"lo":336,"hi":654},{"c":"BFA","s":"g","x":2013.8,"y":540,"lo":367,"hi":713},{"c":"BFA","s":"g","x":2013.9,"y":545,"lo":370,"hi":720},{"c":"BFA","s":"g","x":2013.998,"y":545,"lo":370,"hi":720},
{"c":"BFA","s":"r","x":2013,"y":0,"lo":0,"hi":0},{"c":"BFA","s":"r","x":2013.2,"y":0,"lo":0,"hi":0},{"c":"BFA","s":"r","x":2013.3,"y":20,"lo":11,"hi":27},{"c":"BFA","s":"r","x":2013.4,"y":70,"lo":38,"hi":93},{"c":"BFA","s":"r","x":2013.5,"y":160,"lo":87,"hi":213},{"c":"BFA","s":"r","x":2013.6,"y":340,"lo":184,"hi":453},{"c":"BFA","s":"r","x":2013.7,"y":548,"lo":296,"hi":731},{"c":"BFA","s":"r","x":2013.8,"y":640,"lo":346,"hi":853},{"c":"BFA","s":"r","x":2013.9,"y":645,"lo":349,"hi":860},{"c":"BFA","s":"r","x":2013.998,"y":645,"lo":349,"hi":860},
{"c":"BFA","s":"k","x":2013,"y":0,"lo":0,"hi":0},{"c":"BFA","s":"k","x":2013.2,"y":0,"lo":0,"hi":0},{"c":"BFA","s":"k","x":2013.3,"y":65,"lo":12,"hi":100},{"c":"BFA","s":"k","x":2013.4,"y":95,"lo":40,"hi":130},{"c":"BFA","s":"k","x":2013.5,"y":200,"lo":92,"hi":270},{"c":"BFA","s":"k","x":2013.6,"y":400,"lo":195,"hi":560},{"c":"BFA","s":"k","x":2013.7,"y":672,"lo":314,"hi":850},{"c":"BFA","s":"k","x":2013.8,"y":748,"lo":367,"hi":958},{"c":"BFA","s":"k","x":2013.9,"y":748,"lo":370,"hi":960},{"c":"BFA","s":"k","x":2013.998,"y":748,"lo":370,"hi":960},
{"c":"BFA","s":"g","x":2014,"y":0,"lo":0,"hi":0},{"c":"BFA","s":"g","x":2014.2,"y":0,"lo":0,"hi":0},{"c":"BFA","s":"g","x":2014.3,"y":5,"lo":3,"hi":7},{"c":"BFA","s":"g","x":2014.4,"y":50,"lo":27,"hi":66},{"c":"BFA","s":"g","x":2014.5,"y":170,"lo":90,"hi":225},{"c":"BFA","s":"g","x":2014.6,"y":333,"lo":177,"hi":440},{"c":"BFA","s":"g","x":2014.7,"y":500,"lo":266,"hi":660},{"c":"BFA","s":"g","x":2014.8,"y":540,"lo":287,"hi":713},{"c":"BFA","s":"g","x":2014.9,"y":545,"lo":290,"hi":720},{"c":"BFA","s":"g","x":2014.998,"y":545,"lo":290,"hi":720},
{"c":"BFA","s":"r","x":2014,"y":0,"lo":0,"hi":0},{"c":"BFA","s":"r","x":2014.2,"y":0,"lo":0,"hi":0},{"c":"BFA","s":"r","x":2014.3,"y":5,"lo":3,"hi":7},{"c":"BFA","s":"r","x":2014.4,"y":55,"lo":29,"hi":76},{"c":"BFA","s":"r","x":2014.5,"y":190,"lo":100,"hi":262},{"c":"BFA","s":"r","x":2014.6,"y":330,"lo":175,"hi":454},{"c":"BFA","s":"r","x":2014.7,"y":580,"lo":307,"hi":799},{"c":"BFA","s":"r","x":2014.8,"y":655,"lo":346,"hi":902},{"c":"BFA","s":"r","x":2014.9,"y":660,"lo":349,"hi":909},{"c":"BFA","s":"r","x":2014.998,"y":660,"lo":349,"hi":909},
{"c":"BFA","s":"k","x":2014,"y":0,"lo":0,"hi":0},{"c":"BFA","s":"k","x":2014.2,"y":0,"lo":0,"hi":0},{"c":"BFA","s":"k","x":2014.3,"y":10,"lo":3,"hi":60},{"c":"BFA","s":"k","x":2014.4,"y":72,"lo":32,"hi":180},{"c":"BFA","s":"k","x":2014.5,"y":220,"lo":110,"hi":420},{"c":"BFA","s":"k","x":2014.6,"y":410,"lo":190,"hi":780},{"c":"BFA","s":"k","x":2014.7,"y":650,"lo":335,"hi":1150},{"c":"BFA","s":"k","x":2014.8,"y":755,"lo":377,"hi":1262},{"c":"BFA","s":"k","x":2014.9,"y":760,"lo":380,"hi":1265},{"c":"BFA","s":"k","x":2014.998,"y":760,"lo":380,"hi":1265}
 ]
},
"spacing": 42,
"vconcat": [
 {
  "width": 1074, "height": 280,
  "title": {"text": "Bénin"},
  "data": {"name": "d"},
  "transform": [{"filter": "datum.c == 'BEN'"}],
  "resolve": {"axis": {"x": "independent", "y": "independent"}},
  "layer": [
   {"mark": {"type": "area", "interpolate": "monotone", "fillOpacity": 0.12},
    "encoding": {
     "x": {"field": "x", "type": "quantitative", "scale": {"domain": [2010, 2015], "nice": false, "zero": false}, "axis": {"orient": "top", "labels": false, "grid": false, "title": null, "values": [2010, 2011, 2012, 2013, 2014, 2015]}},
     "y": {"field": "lo", "type": "quantitative", "scale": {"domain": [0, 2000], "nice": false}, "axis": {"orient": "right", "labels": false, "grid": false, "title": null, "values": [0, 500, 1000, 1500, 2000]}},
     "y2": {"field": "hi"},
     "color": {"field": "s", "type": "nominal", "scale": {"domain": ["g", "r", "k"], "range": ["#00ff00", "#ff0000", "#000000"]}, "legend": null}
    }},
   {"transform": [{"filter": "datum.s == 'g'"}], "mark": {"type": "line", "interpolate": "monotone", "color": "#00e600", "strokeWidth": 3},
    "encoding": {
     "x": {"field": "x", "type": "quantitative", "axis": {"values": [2010, 2011, 2012, 2013, 2014, 2015], "format": "d", "title": null, "grid": true}},
     "y": {"field": "y", "type": "quantitative", "axis": {"values": [0, 500, 1000, 1500, 2000], "format": "d", "title": "Rainfall (mm)", "grid": true, "titlePadding": 10}}
    }},
   {"transform": [{"filter": "datum.s == 'r'"}], "mark": {"type": "line", "interpolate": "monotone", "color": "#f00000", "strokeWidth": 3},
    "encoding": {"x": {"field": "x", "type": "quantitative", "axis": null}, "y": {"field": "y", "type": "quantitative", "axis": null}}},
   {"transform": [{"filter": "datum.s == 'k'"}], "mark": {"type": "line", "interpolate": "monotone", "color": "#000000", "strokeWidth": 3.5},
    "encoding": {"x": {"field": "x", "type": "quantitative", "axis": null}, "y": {"field": "y", "type": "quantitative", "axis": null}}}
  ]
 },
 {
  "width": 1074, "height": 280,
  "title": {"text": "Niger"},
  "data": {"name": "d"},
  "transform": [{"filter": "datum.c == 'NER'"}],
  "resolve": {"axis": {"x": "independent", "y": "independent"}},
  "layer": [
   {"mark": {"type": "area", "interpolate": "monotone", "fillOpacity": 0.12},
    "encoding": {
     "x": {"field": "x", "type": "quantitative", "scale": {"domain": [2010, 2015], "nice": false, "zero": false}, "axis": {"orient": "top", "labels": false, "grid": false, "title": null, "values": [2010, 2011, 2012, 2013, 2014, 2015]}},
     "y": {"field": "lo", "type": "quantitative", "scale": {"domain": [0, 1000], "nice": false}, "axis": {"orient": "right", "labels": false, "grid": false, "title": null, "values": [0, 200, 400, 600, 800, 1000]}},
     "y2": {"field": "hi"},
     "color": {"field": "s", "type": "nominal", "scale": {"domain": ["g", "r", "k"], "range": ["#00ff00", "#ff0000", "#000000"]}, "legend": null}
    }},
   {"transform": [{"filter": "datum.s == 'g'"}], "mark": {"type": "line", "interpolate": "monotone", "color": "#00e600", "strokeWidth": 3},
    "encoding": {
     "x": {"field": "x", "type": "quantitative", "axis": {"values": [2010, 2011, 2012, 2013, 2014, 2015], "format": "d", "title": null, "grid": true}},
     "y": {"field": "y", "type": "quantitative", "axis": {"values": [0, 200, 400, 600, 800, 1000], "format": "d", "title": "Rainfall (mm)", "grid": true, "titlePadding": 10}}
    }},
   {"transform": [{"filter": "datum.s == 'r'"}], "mark": {"type": "line", "interpolate": "monotone", "color": "#f00000", "strokeWidth": 3},
    "encoding": {"x": {"field": "x", "type": "quantitative", "axis": null}, "y": {"field": "y", "type": "quantitative", "axis": null}}},
   {"transform": [{"filter": "datum.s == 'k'"}], "mark": {"type": "line", "interpolate": "monotone", "color": "#000000", "strokeWidth": 3.5},
    "encoding": {"x": {"field": "x", "type": "quantitative", "axis": null}, "y": {"field": "y", "type": "quantitative", "axis": null}}}
  ]
 },
 {
  "width": 1074, "height": 280,
  "title": {"text": "Burkina Faso"},
  "data": {"name": "d"},
  "transform": [{"filter": "datum.c == 'BFA'"}],
  "resolve": {"axis": {"x": "independent", "y": "independent"}},
  "layer": [
   {"mark": {"type": "area", "interpolate": "monotone", "fillOpacity": 0.12},
    "encoding": {
     "x": {"field": "x", "type": "quantitative", "scale": {"domain": [2010, 2015], "nice": false, "zero": false}, "axis": {"orient": "top", "labels": false, "grid": false, "title": null, "values": [2010, 2011, 2012, 2013, 2014, 2015]}},
     "y": {"field": "lo", "type": "quantitative", "scale": {"domain": [0, 1500], "nice": false}, "axis": {"orient": "right", "labels": false, "grid": false, "title": null, "values": [0, 500, 1000, 1500]}},
     "y2": {"field": "hi"},
     "color": {"field": "s", "type": "nominal", "scale": {"domain": ["g", "r", "k"], "range": ["#00ff00", "#ff0000", "#000000"]}, "legend": null}
    }},
   {"transform": [{"filter": "datum.s == 'g'"}], "mark": {"type": "line", "interpolate": "monotone", "color": "#00e600", "strokeWidth": 3},
    "encoding": {
     "x": {"field": "x", "type": "quantitative", "axis": {"values": [2010, 2011, 2012, 2013, 2014, 2015], "format": "d", "title": null, "grid": true}},
     "y": {"field": "y", "type": "quantitative", "axis": {"values": [0, 500, 1000, 1500], "format": "d", "title": "Rainfall (mm)", "grid": true, "titlePadding": 10}}
    }},
   {"transform": [{"filter": "datum.s == 'r'"}], "mark": {"type": "line", "interpolate": "monotone", "color": "#f00000", "strokeWidth": 3},
    "encoding": {"x": {"field": "x", "type": "quantitative", "axis": null}, "y": {"field": "y", "type": "quantitative", "axis": null}}},
   {"transform": [{"filter": "datum.s == 'k'"}], "mark": {"type": "line", "interpolate": "monotone", "color": "#000000", "strokeWidth": 3.5},
    "encoding": {"x": {"field": "x", "type": "quantitative", "axis": null}, "y": {"field": "y", "type": "quantitative", "axis": null}}},
   {"data": {"name": "leg"}, "mark": {"type": "point", "filled": true, "strokeWidth": 3, "opacity": 1},
    "encoding": {
     "x": {"field": "x", "type": "quantitative", "axis": null},
     "y": {"field": "y", "type": "quantitative", "axis": null},
     "fill": {"field": "k", "type": "nominal", "scale": {"domain": ["gb", "gl", "rb", "rl", "kb", "kl"], "range": ["#00ff00", "#00ff00", "#ff0000", "#ff0000", "#000000", "#000000"]},
      "legend": {"orient": "none", "legendX": 5, "legendY": 1123, "direction": "horizontal", "columns": 6, "title": null, "symbolSize": 400, "symbolStrokeWidth": 3, "labelFontSize": 20, "labelFont": "DejaVu Sans", "labelColor": "#000000", "labelOffset": 51, "labelLimit": 400, "columnPadding": 2, "strokeColor": "#262626", "fillColor": "#ffffff", "padding": 5, "labelExpr": "datum.value == 'gl' ? 'TAMSAT ORIGINAL' : datum.value == 'rl' ? 'TAMSAT+SMOS' : datum.value == 'kl' ? 'In-situ Raingauge' : '0O'", "labelOpacity": {"expr": "indexof(['gb','rb','kb'], datum.value) >= 0 ? 0 : 1"}}},
     "stroke": {"field": "k", "type": "nominal", "scale": {"domain": ["gb", "gl", "rb", "rl", "kb", "kl"], "range": ["#00ff00", "#00ff00", "#ff0000", "#ff0000", "#000000", "#000000"]},
      "legend": {"orient": "none", "legendX": 5, "legendY": 1123, "direction": "horizontal", "columns": 6, "title": null, "symbolSize": 400, "symbolStrokeWidth": 3, "labelFontSize": 20, "labelFont": "DejaVu Sans", "labelColor": "#000000", "labelOffset": 51, "labelLimit": 400, "columnPadding": 2, "strokeColor": "#262626", "fillColor": "#ffffff", "padding": 5, "labelExpr": "datum.value == 'gl' ? 'TAMSAT ORIGINAL' : datum.value == 'rl' ? 'TAMSAT+SMOS' : datum.value == 'kl' ? 'In-situ Raingauge' : '0O'", "labelOpacity": {"expr": "indexof(['gb','rb','kb'], datum.value) >= 0 ? 0 : 1"}}},
     "shape": {"field": "k", "type": "nominal", "scale": {"domain": ["gb", "gl", "rb", "rl", "kb", "kl"], "range": ["M-1,-0.85H5.5V0.85H-1Z", "M-1,0H5.6", "M-1,-0.85H5.5V0.85H-1Z", "M-1,0H5.6", "M-1,-0.85H5.5V0.85H-1Z", "M-1,0H5.6"]},
      "legend": {"orient": "none", "legendX": 5, "legendY": 1123, "direction": "horizontal", "columns": 6, "title": null, "symbolSize": 400, "symbolStrokeWidth": 3, "labelFontSize": 20, "labelFont": "DejaVu Sans", "labelColor": "#000000", "labelOffset": 51, "labelLimit": 400, "columnPadding": 2, "strokeColor": "#262626", "fillColor": "#ffffff", "padding": 5, "labelExpr": "datum.value == 'gl' ? 'TAMSAT ORIGINAL' : datum.value == 'rl' ? 'TAMSAT+SMOS' : datum.value == 'kl' ? 'In-situ Raingauge' : '0O'", "labelOpacity": {"expr": "indexof(['gb','rb','kb'], datum.value) >= 0 ? 0 : 1"}}}
    }}
  ]
 }
]
}
